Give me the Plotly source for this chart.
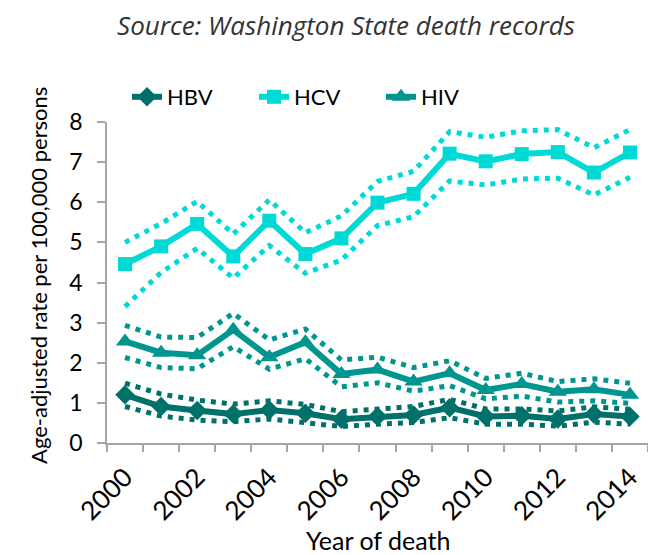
import plotly.graph_objects as go

years = list(range(2000, 2015))

hbv = [1.20, 0.91, 0.81, 0.72, 0.82, 0.74, 0.59, 0.66, 0.70, 0.88, 0.66, 0.68, 0.60, 0.72, 0.66]
hbv_hi = [1.49, 1.22, 1.07, 0.97, 1.05, 0.96, 0.78, 0.86, 0.91, 1.09, 0.85, 0.85, 0.80, 0.90, 0.84]
hbv_lo = [0.91, 0.67, 0.57, 0.53, 0.60, 0.52, 0.41, 0.47, 0.51, 0.63, 0.47, 0.47, 0.42, 0.52, 0.47]

hcv = [4.46, 4.90, 5.46, 4.65, 5.54, 4.71, 5.10, 5.99, 6.21, 7.21, 7.02, 7.20, 7.25, 6.74, 7.24]
hcv_hi = [5.00, 5.47, 6.02, 5.21, 6.06, 5.24, 5.66, 6.52, 6.77, 7.76, 7.62, 7.78, 7.81, 7.36, 7.81]
hcv_lo = [3.40, 4.25, 4.85, 4.11, 4.92, 4.23, 4.56, 5.42, 5.64, 6.53, 6.43, 6.58, 6.60, 6.18, 6.62]

hiv = [2.53, 2.25, 2.19, 2.82, 2.14, 2.51, 1.72, 1.83, 1.53, 1.74, 1.32, 1.47, 1.28, 1.34, 1.20]
hiv_hi = [2.93, 2.64, 2.63, 3.23, 2.57, 2.84, 2.07, 2.14, 1.88, 2.05, 1.61, 1.74, 1.53, 1.60, 1.49]
hiv_lo = [2.13, 1.88, 1.85, 2.40, 1.84, 2.10, 1.40, 1.50, 1.29, 1.43, 1.10, 1.17, 1.02, 1.05, 0.99]

label_years = [2000, 2002, 2004, 2006, 2008, 2010, 2012, 2014]

C_HBV = "#00706B"
C_HCV = "#00DAD6"
C_HIV = "#00968F"

series = [
    ("HBV", hbv, hbv_hi, hbv_lo, C_HBV, "diamond", 15),
    ("HCV", hcv, hcv_hi, hcv_lo, C_HCV, "square", 14),
    ("HIV", hiv, hiv_hi, hiv_lo, C_HIV, "triangle-up", 16),
]

fig = go.Figure()
for name, main, hi, lo, col, sym, ms in series:
    for ci in (hi, lo):
        fig.add_trace(go.Scatter(
            x=years, y=ci, mode="lines", showlegend=False, hoverinfo="skip",
            line=dict(color=col, width=5, dash="5px,6px")))
for name, main, hi, lo, col, sym, ms in series:
    fig.add_trace(go.Scatter(
        x=years, y=main, mode="lines+markers", name=name,
        line=dict(color=col, width=6),
        marker=dict(symbol=sym, size=ms, color=col, line=dict(width=0))))

axis_col = "#A6A6A6"
fig.update_layout(
    width=648, height=555,
    paper_bgcolor="white", plot_bgcolor="white",
    margin=dict(l=107, r=0, t=122, b=112, autoexpand=False),
    font=dict(family="Lato, Carlito, sans-serif", color="#000000"),
    title=dict(text="<i>Source: Washington State death records</i>",
               x=346/648, xanchor="center", y=1 - 26/555, yanchor="middle",
               font=dict(family="Open Sans", size=26, color="#333333")),
    legend=dict(orientation="h", x=20/541, xanchor="left", y=(443 - 97) / 321, yanchor="middle",
                font=dict(size=22, family="Lato"), entrywidth=82, entrywidthmode="pixels",
                tracegroupgap=0, bgcolor="rgba(0,0,0,0)"),
    showlegend=True,
)
fig.update_xaxes(
    range=[1999.5, 2014.5], tickmode="array", tickvals=label_years,
    ticktext=[str(y) for y in label_years], tickangle=-45, ticks="",
    tickfont=dict(size=26), ticklabelstandoff=7,
    showgrid=False, zeroline=False, automargin=False,
    showline=True, linecolor=axis_col, linewidth=1.5,
    minor=dict(tickmode="array", tickvals=[y - 0.5 for y in years] + [2014.5],
               ticks="outside", ticklen=7, tickcolor=axis_col, tickwidth=1.5, showgrid=False),
)
fig.update_yaxes(
    range=[0, 8], tickmode="array", tickvals=list(range(0, 9)),
    ticks="outside", ticklen=8, tickcolor=axis_col, tickwidth=1.5,
    tickfont=dict(size=23), ticklabelstandoff=10,
    showgrid=False, zeroline=False, automargin=False,
    showline=True, linecolor=axis_col, linewidth=1.5,
)
fig.add_annotation(text="Age-adjusted rate per 100,000 persons", textangle=-90,
                   xref="paper", yref="paper", x=(38 - 107) / 541, xanchor="center",
                   y=(443 - 276) / 321, yanchor="middle", showarrow=False,
                   font=dict(size=22, family="Lato"))
fig.add_annotation(text="Year of death", xref="paper", yref="paper",
                   x=(378 - 107) / 541, xanchor="center", y=(443 - 540) / 321, yanchor="middle",
                   showarrow=False, font=dict(size=25, family="Lato"))

fig.write_html("out.html", config={"displayModeBar": False},
               post_script="document.body.style.margin='0';document.body.style.overflow='hidden';")
